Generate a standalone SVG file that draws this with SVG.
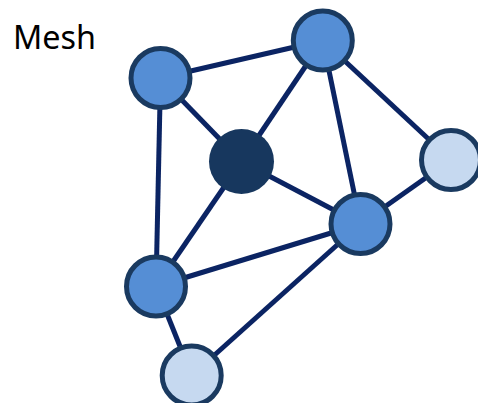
<svg xmlns="http://www.w3.org/2000/svg" width="478" height="403" viewBox="0 0 478 403">
<style>
.e{stroke:#0b2463;stroke-width:5;fill:none}
.n{stroke:#1a3a60;stroke-width:5}
.m{fill:#558ed5}
.l{fill:#c6d9f0}
.d{fill:#17375e}
text{font-family:"Noto Sans","Open Sans",sans-serif;font-size:32px;fill:#000}
</style>
<rect width="478" height="403" fill="#fff"/>
<text x="13" y="49" textLength="83" lengthAdjust="spacingAndGlyphs">Mesh</text>
<g id="connectors">
<line class="e" x1="160.5" y1="78" x2="322.8" y2="40.5"/>
<line class="e" x1="160.5" y1="78" x2="241.5" y2="161.5"/>
<line class="e" x1="160.5" y1="78" x2="156" y2="286.5"/>
<line class="e" x1="322.8" y1="40.5" x2="241.5" y2="161.5"/>
<line class="e" x1="322.8" y1="40.5" x2="360.5" y2="224"/>
<line class="e" x1="322.8" y1="40.5" x2="451" y2="160"/>
<line class="e" x1="241.5" y1="161.5" x2="360.5" y2="224"/>
<line class="e" x1="241.5" y1="161.5" x2="156" y2="286.5"/>
<line class="e" x1="451" y1="160" x2="360.5" y2="224"/>
<line class="e" x1="360.5" y1="224" x2="156" y2="286.5"/>
<line class="e" x1="360.5" y1="224" x2="191.7" y2="375.5"/>
<line class="e" x1="156" y1="286.5" x2="191.7" y2="375.5"/>
</g>
<g id="nA"><circle class="n m" cx="160.5" cy="78" r="29.5"/></g>
<g id="nB"><circle class="n m" cx="322.8" cy="40.5" r="29.5"/></g>
<g id="nC"><circle class="d" cx="241.5" cy="161.5" r="32.5"/></g>
<g id="nD"><circle class="n l" cx="451" cy="160" r="29.5"/></g>
<g id="nE"><circle class="n m" cx="360.5" cy="224" r="29.5"/></g>
<g id="nF"><circle class="n m" cx="156" cy="286.5" r="29.5"/></g>
<g id="nG"><circle class="n l" cx="191.7" cy="375.5" r="29.5"/></g>
</svg>
